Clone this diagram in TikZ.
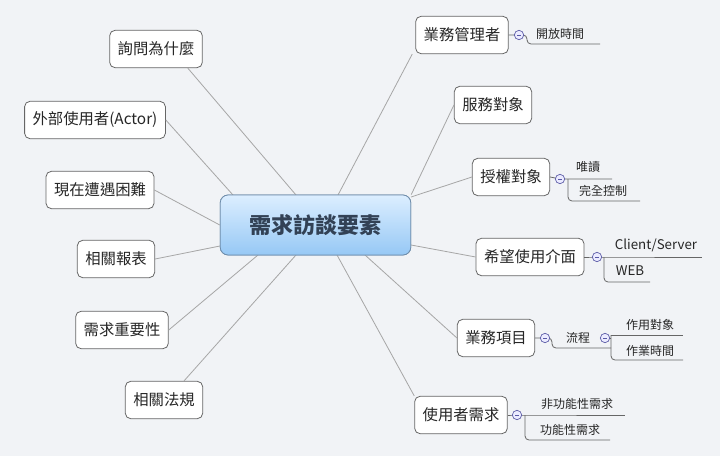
\documentclass[tikz,border=0pt]{standalone}
\usepackage{fontspec}
\setmainfont{Noto Sans CJK TC}
\usetikzlibrary{calc}
\begin{document}
\begin{tikzpicture}[x=0.75pt,y=-0.75pt,
  topic/.style={draw=gray!80!black,line width=0.6pt,rounded corners=4pt,fill=white,font=\fontsize{11.5}{13}\selectfont,text=black!85,minimum height=28pt,inner xsep=6pt},
  conn/.style={draw=gray!70,line width=0.6pt},
  sub/.style={font=\fontsize{9}{10}\selectfont,text=black!85,inner sep=1pt},
  ul/.style={draw=gray!80!black,line width=0.6pt,rounded corners=3pt},
  knob/.style={circle,draw=blue!30!gray,fill=blue!8,inner sep=0pt,minimum size=7pt,line width=0.5pt}]
\fill[color={rgb,255:red,241;green,243;blue,246}] (0,0) rectangle (720,456);
\useasboundingbox (0,0) rectangle (720,456);
\node[draw={rgb,255:red,110;green,140;blue,170},line width=0.6pt,rounded corners=6pt,top color={rgb,255:red,220;green,238;blue,255},bottom color={rgb,255:red,150;green,200;blue,245},minimum width=143pt,minimum height=45pt,font=\fontsize{16.5}{18}\selectfont\bfseries,text={rgb,255:red,50;green,65;blue,85}] (c) at (315.5,225) {需求訪談要素};
% left
\node[topic] (l1) at (156,49) {詢問為什麼};
\node[topic] (l2) at (95,120) {外部使用者(Actor)};
\node[topic] (l3) at (100,190) {現在遭遇困難};
\node[topic] (l4) at (116,259) {相關報表};
\node[topic] (l5) at (122,330) {需求重要性};
\node[topic] (l6) at (164,400) {相關法規};
% right
\node[topic] (r1) at (462,35) {業務管理者};
\node[topic] (r2) at (493,105) {服務對象};
\node[topic] (r3) at (511,177) {授權對象};
\node[topic] (r4) at (530,257) {希望使用介面};
\node[topic] (r5) at (496,338) {業務項目};
\node[topic] (r6) at (461,415) {使用者需求};
\begin{scope}[on background layer/.try]
\end{scope}
\foreach \n/\a/\b in {l1/0.78/0.0,l2/0.8/0,l3/0.8/0,l4/0.8/0,l5/0.8/0,l6/0.8/0}{}
% connectors
\draw[conn] (l1.south east) ++(-15,0) coordinate (l1a);
\draw[conn] (l1a) -- (296,195);
\draw[conn] (l2.east) -- (233,195);
\draw[conn] (l3.east) -- (c.west);
\draw[conn] (l4.east) -- (220,246);
\draw[conn] (l5.east) -- (258,255);
\draw[conn] ($(l6.north)+(20,0)$) coordinate (l6a) -- (296,255);
\draw[conn] ($(r1.south west)+(-3,0)$) coordinate (r1a) -- (338,195);
\draw[conn] (r2.west) -- (c.north east);
\draw[conn] (r3.west) -- (411,197);
\draw[conn] (r4.west) -- (411,245);
\draw[conn] (r5.west) -- (365,255);
\draw[conn] ($(r6.north west)+(0,0)$) coordinate (r6a) -- (337,255);
\node[draw=none] at (c) {};
\node[draw={rgb,255:red,110;green,140;blue,170},line width=0.6pt,rounded corners=6pt,top color={rgb,255:red,220;green,238;blue,255},bottom color={rgb,255:red,150;green,200;blue,245},minimum width=143pt,minimum height=45pt,font=\fontsize{16.5}{18}\selectfont\bfseries,text={rgb,255:red,50;green,65;blue,85}] at (315.5,225) {需求訪談要素};
% r1 children
\coordinate (k1) at (519,35);
\draw[ul] (r1.east) -- (k1) -- (527,35) -- (527,44) -- (600,44);
\node[knob] at (k1) {};
\draw[blue!30!gray,line width=0.5pt] ($(k1)+(-2,0)$) -- ($(k1)+(2,0)$);
\node[sub] (c11) at (560,34) {開放時間};
% r3 children
\coordinate (k3) at (560,179);
\draw[ul] (r3.east) -- (k3) -- (568,179) -- (612,179);
\draw[ul] (568,179) -- (568,201) -- (640,201);
\node[knob] at (k3) {};
\draw[blue!30!gray,line width=0.5pt] ($(k3)+(-2,0)$) -- ($(k3)+(2,0)$);
\node[sub] (c31) at (588,167) {唯讀};
\node[sub] (c32) at (603,191) {完全控制};
% r4 children
\coordinate (k4) at (597,257);
\draw[ul] (r4.east) -- (k4) -- (604,257) -- (702,257);
\draw[ul] (604,257) -- (604,282) -- (650,282);
\node[knob] at (k4) {};
\draw[blue!30!gray,line width=0.5pt] ($(k4)+(-2,0)$) -- ($(k4)+(2,0)$);
\node[sub,font=\fontsize{10}{11}\selectfont] (c41) at (656,245) {Client/Server};
\node[sub,font=\fontsize{10}{11}\selectfont] (c42) at (630,271) {WEB};
% r5 children
\coordinate (k5) at (545,338);
\draw[ul] (r5.east) -- (k5) -- (552,338) -- (552,348) -- (611,348);
\node[knob] at (k5) {};
\draw[blue!30!gray,line width=0.5pt] ($(k5)+(-2,0)$) -- ($(k5)+(2,0)$);
\node[sub] (c51) at (578,338) {流程};
\coordinate (k6) at (605,338);
\draw[ul] (611,335) -- (683,335);
\draw[ul] (611,335) -- (611,360) -- (683,360);
\draw[ul] (k6) -- (611,338);
\node[knob] at (k6) {};
\draw[blue!30!gray,line width=0.5pt] ($(k6)+(-2,0)$) -- ($(k6)+(2,0)$);
\node[sub] (c52) at (650,325) {作用對象};
\node[sub] (c53) at (650,351) {作業時間};
% r6 children
\coordinate (k7) at (517,415);
\draw[ul] (r6.east) -- (k7) -- (525,415) -- (625,415);
\draw[ul] (525,415) -- (525,440) -- (610,440);
\node[knob] at (k7) {};
\draw[blue!30!gray,line width=0.5pt] ($(k7)+(-2,0)$) -- ($(k7)+(2,0)$);
\node[sub] (c61) at (577,404) {非功能性需求};
\node[sub] (c62) at (570,430) {功能性需求};
\end{tikzpicture}
\end{document}
